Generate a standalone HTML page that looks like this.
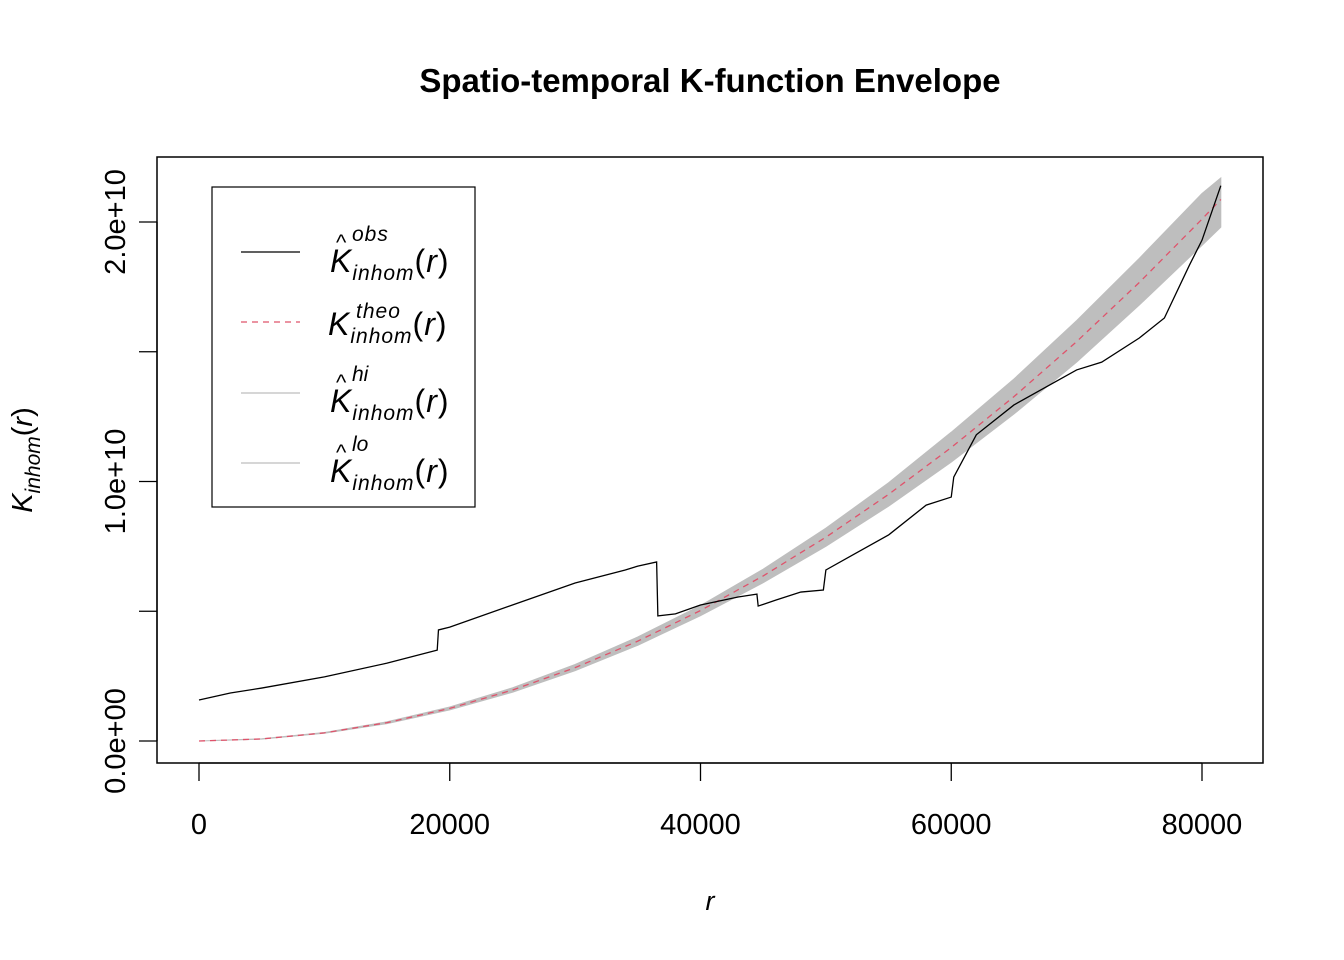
<!DOCTYPE html>
<html><head><meta charset="utf-8"><style>
html,body{margin:0;padding:0;background:#fff}
svg{display:block;font-family:"Liberation Sans",Arial,sans-serif}
</style></head><body>
<svg id="chart" width="1344" height="960" viewBox="0 0 1344 960">
<text x="710" y="92" text-anchor="middle" font-size="33" font-weight="bold">Spatio-temporal K-function Envelope</text>
<rect x="157" y="157" width="1106" height="606" fill="none" stroke="#000" stroke-width="1.5"/>
<g id="plot"></g>
<g id="xaxis"></g>
<g id="yaxis"></g>
<text x="710" y="910" text-anchor="middle" font-size="27" font-style="italic">r</text>
<text transform="translate(32,460) rotate(-90)" text-anchor="middle" font-size="29"><tspan font-style="italic">K</tspan><tspan font-style="italic" font-size="21" dy="8">inhom</tspan><tspan dy="-8">(</tspan><tspan font-style="italic">r</tspan><tspan>)</tspan></text>
<g>
<rect x="212" y="187" width="263" height="320" fill="#fff" stroke="#000" stroke-width="1.2"/>
<g>
<line x1="241" y1="252" x2="300" y2="252" stroke="#000" stroke-width="1.3"/>
<text x="330" y="272" font-size="32" font-style="italic" letter-spacing="1">K<tspan font-size="21" dy="8">inhom</tspan><tspan dy="-8" font-style="normal">(</tspan>r<tspan font-style="normal">)</tspan></text>
<text x="336" y="250" font-size="22">^</text><text x="352" y="241" font-size="21" font-style="italic" letter-spacing="1">obs</text>
</g>
<g>
<line x1="241" y1="322" x2="300" y2="322" stroke="#DF536B" stroke-width="1.3" stroke-dasharray="6,5"/>
<text x="328" y="335" font-size="32" font-style="italic" letter-spacing="1">K<tspan font-size="21" dy="8">inhom</tspan><tspan dy="-8" font-style="normal">(</tspan>r<tspan font-style="normal">)</tspan></text>
<text x="356" y="318" font-size="21" font-style="italic" letter-spacing="1">theo</text>
</g>
<g>
<line x1="241" y1="393" x2="300" y2="393" stroke="#bebebe" stroke-width="1.3"/>
<text x="330" y="412" font-size="32" font-style="italic" letter-spacing="1">K<tspan font-size="21" dy="8">inhom</tspan><tspan dy="-8" font-style="normal">(</tspan>r<tspan font-style="normal">)</tspan></text>
<text x="336" y="390" font-size="22">^</text><text x="352" y="381" font-size="21" font-style="italic">hi</text>
</g>
<g>
<line x1="241" y1="463" x2="300" y2="463" stroke="#bebebe" stroke-width="1.3"/>
<text x="330" y="482" font-size="32" font-style="italic" letter-spacing="1">K<tspan font-size="21" dy="8">inhom</tspan><tspan dy="-8" font-style="normal">(</tspan>r<tspan font-style="normal">)</tspan></text>
<text x="336" y="460" font-size="22">^</text><text x="352" y="451" font-size="21" font-style="italic">lo</text>
</g>
</g>
</svg>
<script>
const envR = [0,5000,10000,15000,20000,25000,30000,35000,40000,45000,50000,55000,60000,65000,70000,75000,80000,81500];
const theoK = [0,0.0785,0.314,0.707,1.257,1.963,2.827,3.848,5.027,6.362,7.854,9.503,11.31,13.27,15.39,17.67,20.11,20.87];
const hiK = [0,0.085,0.33,0.74,1.31,2.05,2.95,4.01,5.22,6.62,8.2,9.95,11.9,13.95,16.2,18.6,21.1,21.7];
const loK = [0,0.072,0.30,0.67,1.2,1.88,2.71,3.69,4.83,6.1,7.5,9.05,10.75,12.6,14.6,16.8,19.1,19.8];
const obsR = [0,2500,5000,10000,15000,19000,19100,20000,25000,30000,34000,35000,36500,36600,38000,40000,43000,44500,44600,46000,48000,49800,50000,52000,55000,58000,60000,60200,62000,65000,70000,72000,75000,77000,79000,80000,81500];
const obsK = [1.58,1.85,2.04,2.47,3.0,3.5,4.28,4.39,5.24,6.09,6.59,6.74,6.9,4.82,4.9,5.24,5.55,5.66,5.2,5.43,5.74,5.82,6.59,7.13,7.94,9.09,9.4,10.17,11.8,12.95,14.3,14.6,15.53,16.3,18.34,19.3,21.4];
const xTicks = [0,20000,40000,60000,80000];
const yTicks = [0,5,10,15,20];
const yTickLabels = {0:"0.0e+00",10:"1.0e+10",20:"2.0e+10"};

const NS="http://www.w3.org/2000/svg";
const X = r => 199 + r*(1003/80000);
const Y = k => 741 - k*25.95;  // k in 1e9
function mk(tag, attrs, parent){const e=document.createElementNS(NS,tag);for(const a in attrs)e.setAttribute(a,attrs[a]);parent.appendChild(e);return e;}
const plot=document.getElementById('plot');
let d="M"+envR.map((r,i)=>X(r)+","+Y(hiK[i])).join(" L");
for(let i=envR.length-1;i>=0;i--) d+=" L"+X(envR[i])+","+Y(loK[i]);
const band=mk('path',{d:d+"Z",fill:"#bebebe",stroke:"#bebebe"},plot);


const theo=mk('polyline',{points:envR.map((r,i)=>X(r)+","+Y(theoK[i])).join(" "),fill:"none",stroke:"#DF536B","stroke-width":1.3,"stroke-dasharray":"6,5"},plot);


const obs=mk('polyline',{points:obsR.map((r,i)=>X(r)+","+Y(obsK[i])).join(" "),fill:"none",stroke:"#000","stroke-width":1.3},plot);


const xa=document.getElementById('xaxis');
mk('line',{x1:X(xTicks[0]),x2:X(xTicks[xTicks.length-1]),y1:763,y2:763,stroke:"#000","stroke-width":1.3},xa);
xTicks.forEach(t=>{
  mk('line',{x1:X(t),x2:X(t),y1:763,y2:781,stroke:"#000","stroke-width":1.3},xa);
  const tx=mk('text',{x:X(t),y:834,"text-anchor":"middle","font-size":29},xa);
  tx.textContent=t;
  
  
});
const ya=document.getElementById('yaxis');
mk('line',{x1:157,x2:157,y1:Y(yTicks[0]),y2:Y(yTicks[yTicks.length-1]),stroke:"#000","stroke-width":1.3},ya);
yTicks.forEach(t=>{
  mk('line',{x1:139,x2:157,y1:Y(t),y2:Y(t),stroke:"#000","stroke-width":1.3},ya);
  if(yTickLabels[t]){
    const tx=mk('text',{transform:`translate(125,${Y(t)}) rotate(-90)`,"text-anchor":"middle","font-size":29},ya);
    tx.textContent=yTickLabels[t];
    
    
  }
});
</script>
</body></html>
